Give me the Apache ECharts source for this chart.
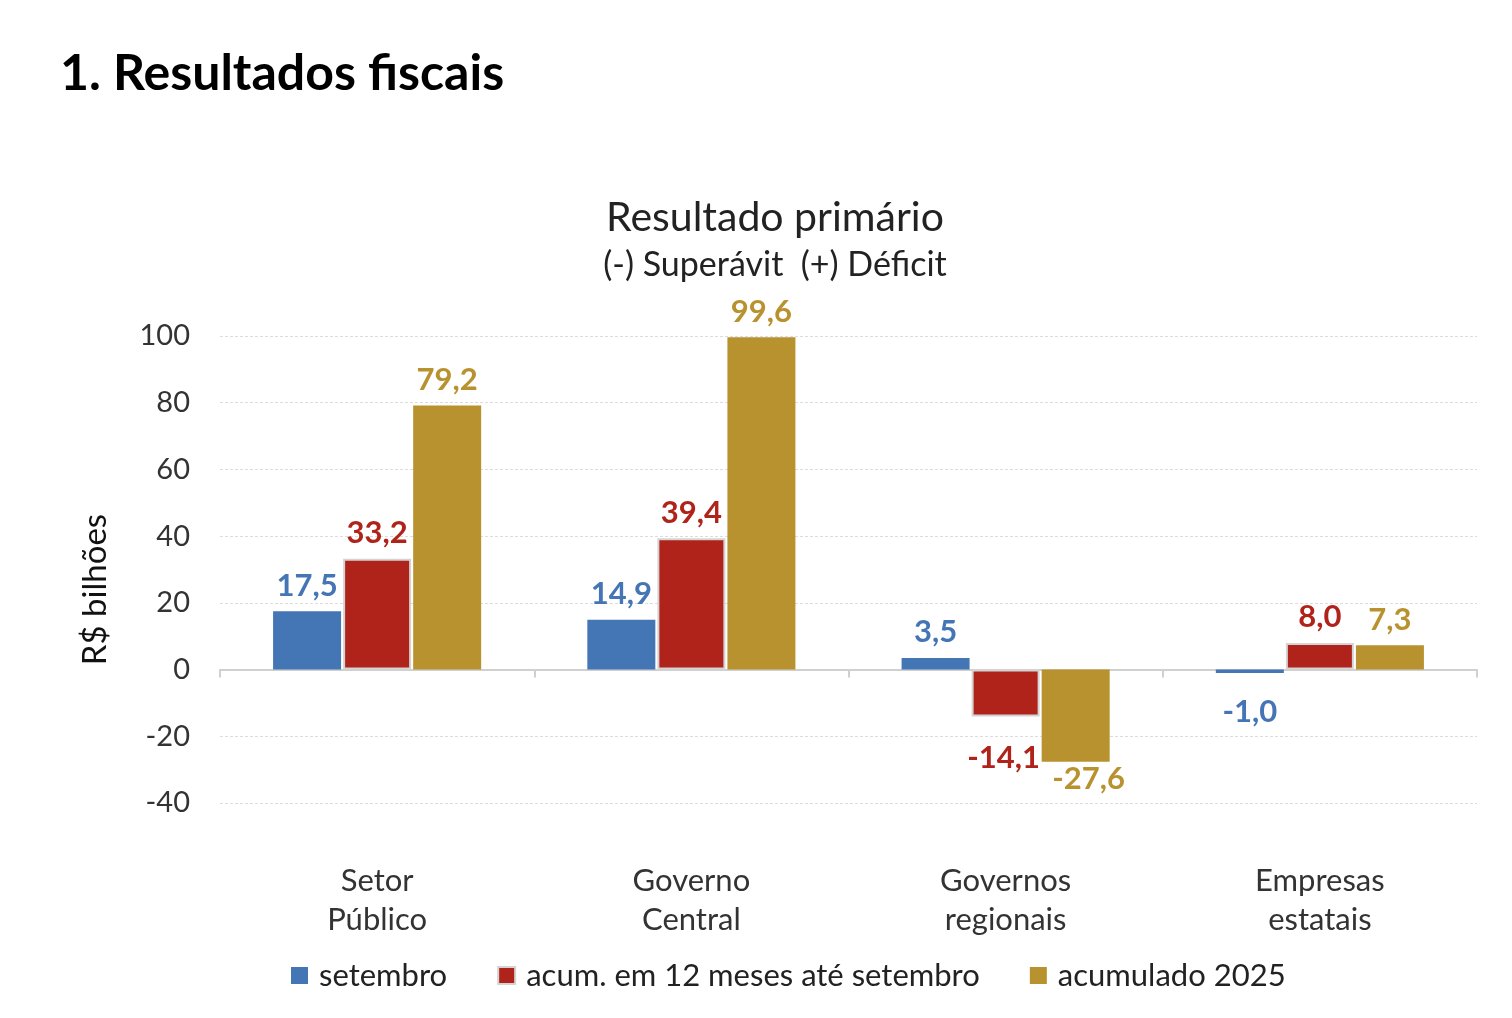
<!DOCTYPE html>
<html>
<head>
<meta charset="utf-8">
<script src="https://cdn.jsdelivr.net/npm/echarts@6/dist/echarts.min.js"></script>
<style>
  html, body { margin: 0; padding: 0; background: #fff; }
  #chart { width: 1512px; height: 1018px; }
</style>
</head>
<body>
<div id="chart"></div>
<script>
// dados
const categories = ["Setor\nPúblico", "Governo\nCentral", "Governos\nregionais", "Empresas\nestatais"];
const setembro = [17.5, 14.9, 3.5, -1.0];
const acum12 = [33.2, 39.4, -14.1, 8.0];
const acum2025 = [79.2, 99.6, -27.6, 7.3];
const seriesNames = ["setembro", "acum. em 12 meses até setembro", "acumulado 2025"];
const colors = ["#4475B4", "#B0231A", "#B8922F"];

const FONT = "Lato, 'Open Sans', sans-serif";
const chart = echarts.init(document.getElementById("chart"));

function fmt(p) {
  return p.value.toFixed(1).replace(".", ",");
}

// ajustes de rótulo para barras negativas (como no Excel original)
const negLabel = {
  setembro: { distance: 24, offset: [0, 0] },
  acum12: { distance: 26, offset: [-2, 0] },
  acum2025: { distance: 2, offset: [13, 0] }
};

function makeSeries(name, data, color, border, neg) {
  return {
    name: name,
    type: "bar",
    data: data.map(v => v < 0
      ? { value: v, label: { position: "bottom", distance: neg.distance, offset: neg.offset } }
      : v),
    barWidth: 68,
    barGap: "3%",
    itemStyle: {
      color: color,
      borderColor: border ? "#d4d4d4" : color,
      borderWidth: border ? 2 : 0
    },
    label: {
      show: true,
      position: "top",
      distance: 10,
      formatter: fmt,
      color: color,
      fontFamily: FONT,
      fontWeight: "bold",
      fontSize: 31
    }
  };
}

const option = {
  animation: false,
  title: [
    {
      text: "1. Resultados fiscais",
      left: 55, top: 44,
      textStyle: { fontFamily: FONT, fontWeight: "bold", fontSize: 50, color: "#000" }
    },
    {
      text: "Resultado primário",
      subtext: "(-) Superávit  (+) Déficit",
      left: 770, top: 192, textAlign: "center",
      itemGap: 10,
      textStyle: { fontFamily: FONT, fontWeight: "normal", fontSize: 41, color: "#222" },
      subtextStyle: { fontFamily: FONT, fontSize: 34, color: "#222" }
    }
  ],
  legend: {
    bottom: 22,
    left: 286,
    itemWidth: 17,
    itemHeight: 17,
    itemGap: 50,
    icon: "rect",
    textStyle: { fontFamily: FONT, fontSize: 31, color: "#222", padding: [0, 0, 0, 6] },
    data: seriesNames
  },
  grid: { left: 220, right: 35, top: 336, bottom: 215 },
  xAxis: [
    {
      type: "category",
      data: categories,
      position: "bottom",
      axisLine: { show: false, onZero: false },
      axisTick: { show: false },
      axisLabel: {
        margin: 58,
        fontFamily: FONT, fontSize: 31, color: "#333", lineHeight: 39
      }
    },
    {
      type: "category",
      data: categories,
      position: "bottom",
      axisLine: { show: true, onZero: true, lineStyle: { color: "#d0d0d0", width: 2 } },
      axisTick: { show: true, length: 8, lineStyle: { color: "#d0d0d0", width: 2 } },
      axisLabel: { show: false }
    }
  ],
  yAxis: {
    type: "value",
    min: -40, max: 100, interval: 20,
    name: "R$ bilhões",
    nameLocation: "middle",
    nameGap: 108,
    nameTextStyle: { fontFamily: FONT, fontSize: 33, color: "#111", padding: [0, 0, 0, -40] },
    axisLine: { show: false },
    axisTick: { show: false },
    axisLabel: { margin: 30, fontFamily: FONT, fontSize: 29, color: "#333" },
    splitLine: { lineStyle: { color: "#dcdcdc", type: [3, 2], width: 1 } }
  },
  series: [
    makeSeries(seriesNames[0], setembro, colors[0], false, negLabel.setembro),
    makeSeries(seriesNames[1], acum12, colors[1], true, negLabel.acum12),
    makeSeries(seriesNames[2], acum2025, colors[2], false, negLabel.acum2025)
  ]
};
chart.setOption(option);
</script>
</body>
</html>
